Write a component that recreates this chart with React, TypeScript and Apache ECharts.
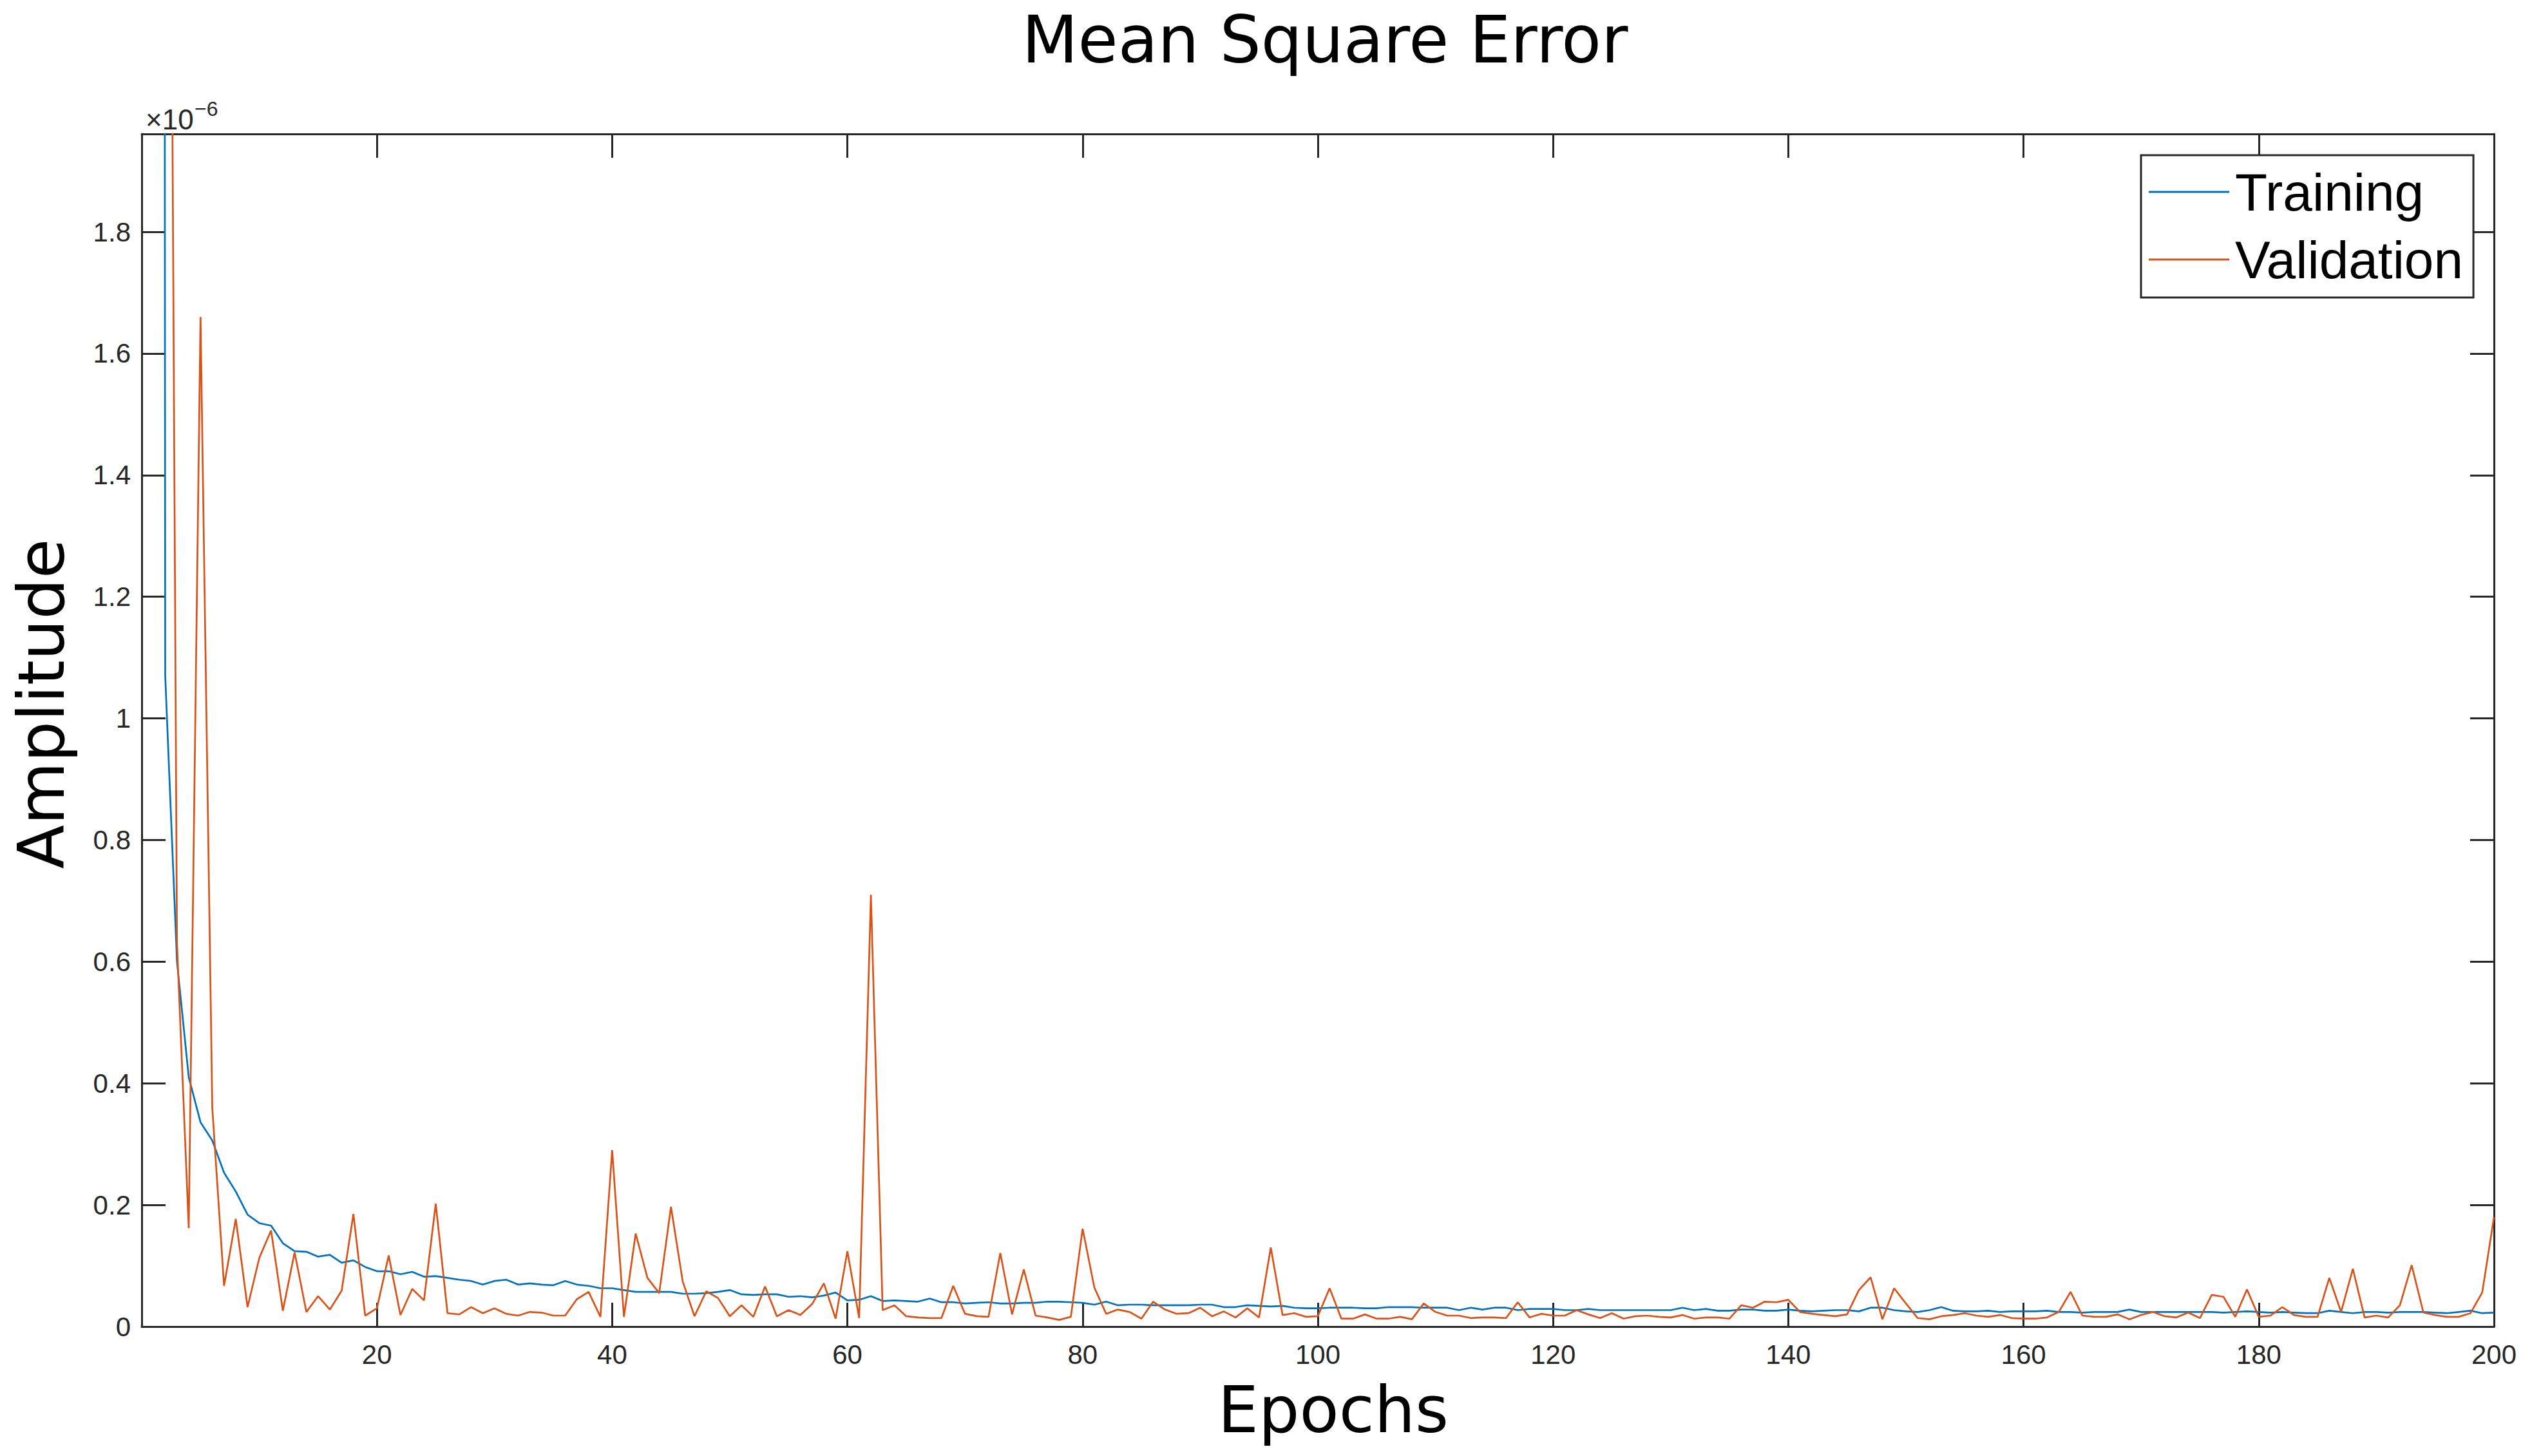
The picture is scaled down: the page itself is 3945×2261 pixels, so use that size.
import React, { useEffect, useRef } from "react";
import * as echarts from "echarts";

// Values are in units of 1e-6 (axis shows "×10^-6")
const training: number[] = [
  25.0, 1.07, 0.60, 0.41, 0.336, 0.306, 0.253, 0.222, 0.184, 0.170,
  0.166, 0.137, 0.124, 0.123, 0.115, 0.118, 0.105, 0.109, 0.098, 0.091,
  0.091, 0.086, 0.090, 0.082, 0.083, 0.080, 0.077, 0.075, 0.069, 0.075,
  0.077, 0.069, 0.071, 0.069, 0.068, 0.075, 0.069, 0.067, 0.063, 0.063,
  0.060, 0.057, 0.057, 0.057, 0.057, 0.054, 0.054, 0.055, 0.057, 0.060,
  0.053, 0.052, 0.053, 0.053, 0.049, 0.050, 0.048, 0.051, 0.056, 0.043,
  0.044, 0.050, 0.042, 0.043, 0.042, 0.041, 0.046, 0.040, 0.040, 0.038,
  0.039, 0.040, 0.038, 0.038, 0.039, 0.039, 0.041, 0.041, 0.040, 0.039,
  0.036, 0.041, 0.035, 0.036, 0.036, 0.035, 0.035, 0.035, 0.035, 0.036,
  0.036, 0.032, 0.032, 0.035, 0.034, 0.033, 0.034, 0.031, 0.030, 0.030,
  0.031, 0.031, 0.031, 0.030, 0.030, 0.032, 0.032, 0.032, 0.031, 0.031,
  0.031, 0.027, 0.031, 0.028, 0.031, 0.031, 0.027, 0.029, 0.029, 0.029,
  0.027, 0.027, 0.029, 0.027, 0.027, 0.027, 0.027, 0.027, 0.027, 0.027,
  0.031, 0.027, 0.029, 0.026, 0.026, 0.028, 0.028, 0.026, 0.026, 0.028,
  0.026, 0.025, 0.026, 0.027, 0.027, 0.025, 0.031, 0.031, 0.027, 0.025,
  0.024, 0.027, 0.032, 0.026, 0.025, 0.025, 0.026, 0.024, 0.025, 0.025,
  0.025, 0.026, 0.024, 0.024, 0.023, 0.024, 0.024, 0.024, 0.028, 0.024,
  0.024, 0.024, 0.024, 0.024, 0.024, 0.024, 0.023, 0.024, 0.025, 0.024,
  0.023, 0.024, 0.023, 0.022, 0.022, 0.026, 0.024, 0.022, 0.024, 0.024,
  0.023, 0.024, 0.024, 0.024, 0.023, 0.022, 0.024, 0.026, 0.022, 0.023,
];

const validation: number[] = [
  5.0, 4.1, 0.63, 0.162, 1.66, 0.36, 0.067, 0.177, 0.032, 0.113,
  0.158, 0.026, 0.122, 0.024, 0.050, 0.028, 0.059, 0.185, 0.018, 0.030,
  0.117, 0.019, 0.062, 0.043, 0.202, 0.022, 0.020, 0.032, 0.022, 0.030,
  0.021, 0.018, 0.024, 0.023, 0.018, 0.018, 0.045, 0.057, 0.016, 0.290,
  0.016, 0.153, 0.080, 0.055, 0.197, 0.074, 0.017, 0.058, 0.047, 0.017,
  0.035, 0.016, 0.066, 0.017, 0.027, 0.019, 0.037, 0.071, 0.013, 0.124,
  0.014, 0.710, 0.027, 0.035, 0.017, 0.015, 0.014, 0.014, 0.067, 0.021,
  0.017, 0.016, 0.121, 0.020, 0.094, 0.018, 0.015, 0.011, 0.016, 0.161,
  0.064, 0.021, 0.028, 0.024, 0.013, 0.041, 0.028, 0.021, 0.022, 0.031,
  0.017, 0.025, 0.015, 0.030, 0.015, 0.130, 0.019, 0.022, 0.016, 0.017,
  0.063, 0.013, 0.013, 0.020, 0.013, 0.013, 0.016, 0.012, 0.038, 0.024,
  0.018, 0.018, 0.014, 0.015, 0.015, 0.014, 0.040, 0.015, 0.021, 0.018,
  0.018, 0.027, 0.020, 0.014, 0.022, 0.013, 0.017, 0.018, 0.016, 0.015,
  0.019, 0.013, 0.015, 0.015, 0.013, 0.035, 0.031, 0.041, 0.040, 0.044,
  0.024, 0.021, 0.019, 0.017, 0.020, 0.060, 0.081, 0.012, 0.063, 0.038,
  0.014, 0.012, 0.017, 0.019, 0.022, 0.018, 0.016, 0.019, 0.014, 0.013,
  0.013, 0.015, 0.024, 0.057, 0.018, 0.016, 0.016, 0.020, 0.012, 0.019,
  0.024, 0.017, 0.015, 0.023, 0.014, 0.052, 0.049, 0.016, 0.061, 0.016,
  0.018, 0.032, 0.019, 0.016, 0.016, 0.080, 0.024, 0.095, 0.015, 0.018,
  0.015, 0.035, 0.101, 0.023, 0.019, 0.016, 0.016, 0.022, 0.056, 0.180,
];

const epochs: number[] = training.map((_, i) => i + 1);
const seriesNames = ["Training", "Validation"];
const seriesColors = ["#0072BD", "#D95319"];

const AXIS = "#262626";
const TICK_FONT = "Liberation Sans";
const LABEL_FONT = "DejaVu Sans";

export default function App() {
  const ref = useRef<HTMLDivElement>(null);

  useEffect(() => {
    document.body.style.margin = "0";
    document.body.style.overflow = "hidden";
    const chart = echarts.init(ref.current!, undefined, { renderer: "svg" });

    const axisLine = { show: true, onZero: false, lineStyle: { color: AXIS, width: 3 } };
    const axisTick = { show: true, inside: true, length: 37, lineStyle: { color: AXIS, width: 3 } };

    const option: any = {
      animation: false,
      backgroundColor: "#ffffff",
      grid: { left: 220, top: 208, width: 3652, height: 1852, containLabel: false },
      xAxis: [
        {
          type: "value",
          min: 0,
          max: 200,
          interval: 20,
          position: "bottom",
          axisLine,
          axisTick,
          splitLine: { show: false },
          axisLabel: {
            fontFamily: TICK_FONT,
            fontSize: 42,
            color: AXIS,
            margin: 22,
            formatter: (v: number) => (v === 0 ? "" : String(v)),
          },
        },
        {
          type: "value",
          min: 0,
          max: 200,
          interval: 20,
          position: "top",
          axisLine,
          axisTick,
          splitLine: { show: false },
          axisLabel: { show: false },
        },
      ],
      yAxis: [
        {
          type: "value",
          min: 0,
          max: 1.961,
          interval: 0.2,
          position: "left",
          axisLine,
          axisTick,
          splitLine: { show: false },
          axisLabel: {
            fontFamily: TICK_FONT,
            fontSize: 42,
            color: AXIS,
            margin: 17,
            showMaxLabel: false,
            formatter: (v: number) => {
              const r = Math.round(v * 10) / 10;
              if (Math.abs(r - v) > 1e-6) return "";
              return String(r);
            },
          },
        },
        {
          type: "value",
          min: 0,
          max: 1.961,
          interval: 0.2,
          position: "right",
          axisLine,
          axisTick,
          splitLine: { show: false },
          axisLabel: { show: false },
        },
      ],
      legend: {
        orient: "vertical",
        left: 3324,
        top: 241,
        icon: "rect",
        itemWidth: 125,
        itemHeight: 3,
        itemGap: 23,
        selectedMode: false,
        padding: [16, 16, 18, 12],
        borderColor: AXIS,
        borderWidth: 3,
        backgroundColor: "#ffffff",
        textStyle: {
          fontFamily: TICK_FONT,
          fontSize: 82,
          lineHeight: 82,
          color: "#000000",
          padding: [0, 0, 0, 4],
        },
        data: seriesNames,
      },
      series: seriesNames.map((name, s) => ({
        name,
        type: "line",
        xAxisIndex: 0,
        yAxisIndex: 0,
        showSymbol: false,
        symbol: "none",
        clip: true,
        lineStyle: { color: seriesColors[s], width: 2.7 },
        itemStyle: { color: seriesColors[s] },
        data: (s === 0 ? training : validation).map((v, i) => [epochs[i], v]),
      })),
      graphic: [
        {
          type: "text",
          x: 2057,
          y: 62,
          style: {
            text: "Mean Square Error",
            fontFamily: LABEL_FONT,
            fontSize: 101,
            fill: "#000000",
            align: "center",
            verticalAlign: "middle",
          },
        },
        {
          type: "text",
          x: 2070,
          y: 2189,
          style: {
            text: "Epochs",
            fontFamily: LABEL_FONT,
            fontSize: 100,
            fill: "#000000",
            align: "center",
            verticalAlign: "middle",
          },
        },
        {
          type: "text",
          x: 64,
          y: 1093,
          rotation: Math.PI / 2,
          style: {
            text: "Amplitude",
            fontFamily: LABEL_FONT,
            fontSize: 100,
            fill: "#000000",
            align: "center",
            verticalAlign: "middle",
          },
        },
        {
          type: "text",
          x: 226,
          y: 185,
          style: {
            text: "×10",
            fontFamily: TICK_FONT,
            fontSize: 44,
            fill: AXIS,
            align: "left",
            verticalAlign: "middle",
          },
        },
        {
          type: "text",
          x: 302,
          y: 169,
          style: {
            text: "−6",
            fontFamily: TICK_FONT,
            fontSize: 32,
            fill: AXIS,
            align: "left",
            verticalAlign: "middle",
          },
        },
      ],
    };

    chart.setOption(option);
    return () => chart.dispose();
  }, []);

  return <div ref={ref} style={{ width: 3945, height: 2261 }} />;
}
